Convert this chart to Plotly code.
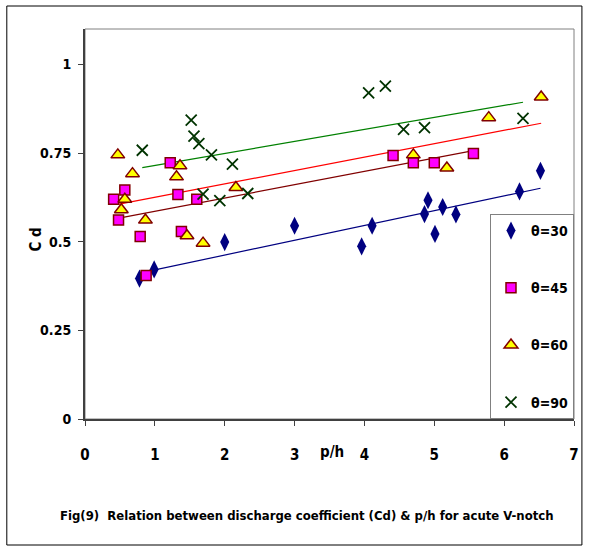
import numpy as np
import plotly.graph_objects as go

# ---- data ----
x30 = [0.78, 0.99, 2.00, 3.00, 3.96, 4.11, 4.86, 4.91, 5.01, 5.12, 5.31, 6.22, 6.52]
y30 = [0.396, 0.422, 0.499, 0.545, 0.487, 0.545, 0.578, 0.617, 0.522, 0.598, 0.577, 0.642, 0.700]

x45 = [0.41, 0.48, 0.57, 0.79, 0.875, 1.22, 1.33, 1.38, 1.60, 4.41, 4.70, 5.00, 5.56]
y45 = [0.620, 0.561, 0.646, 0.515, 0.405, 0.723, 0.633, 0.529, 0.620, 0.743, 0.723, 0.723, 0.749]

x60 = [0.47, 0.52, 0.57, 0.68, 0.865, 1.31, 1.36, 1.46, 1.69, 2.16, 4.70, 5.18, 5.78, 6.53]
y60 = [0.745, 0.590, 0.620, 0.692, 0.561, 0.683, 0.714, 0.517, 0.496, 0.653, 0.745, 0.708, 0.850, 0.908]

x90 = [0.82, 1.52, 1.56, 1.63, 1.69, 1.81, 1.93, 2.11, 2.33, 4.06, 4.30, 4.56, 4.86, 6.27]
y90 = [0.758, 0.843, 0.798, 0.777, 0.634, 0.745, 0.616, 0.719, 0.636, 0.920, 0.939, 0.817, 0.822, 0.848]

names = ["θ=30", "θ=45", "θ=60", "θ=90"]
x_ticks = [0, 1, 2, 3, 4, 5, 6, 7]
y_ticks = [0, 0.25, 0.5, 0.75, 1]
y_tick_text = ["0", "0.25", "0.5", "0.75", "1"]

FONT = "DejaVu Sans Condensed, Liberation Sans Narrow, Arial Narrow, sans-serif"

# plot area geometry (pixels)
W, H = 590, 548
L, R, T, B = 85, 579, 29, 419

fig = go.Figure()

series = [
    (x30, y30, names[0], dict(symbol="diamond-tall", size=13, color="#000080",
                              line=dict(color="#000080", width=0)), "#000080"),
    (x45, y45, names[1], dict(symbol="square", size=10, color="#FF00FF",
                              line=dict(color="#800000", width=1.5)), "#800000"),
    (x60, y60, names[2], dict(symbol="triangle-up", size=12, color="#FFFF00",
                              line=dict(color="#800000", width=1.5)), "#FF0000"),
    (x90, y90, names[3], dict(symbol="x-thin-open", size=11, color="#003300",
                              line=dict(color="#003300", width=1.8)), "#008000"),
]

# linear trendlines (computed from the data, like Excel)
for xs, ys, nm, mk, lc in series:
    xa = np.array(xs)
    ya = np.array(ys)
    m, c = np.polyfit(xa, ya, 1)
    xl = np.array([xa.min(), xa.max()])
    fig.add_trace(go.Scatter(x=xl, y=m * xl + c, mode="lines",
                             line=dict(color=lc, width=1.2),
                             showlegend=False, hoverinfo="skip"))

for i, (xs, ys, nm, mk, lc) in enumerate(series):
    fig.add_trace(go.Scatter(x=xs, y=ys, mode="markers", name=nm, marker=mk,
                             legendgroup=f"g{i}"))

def px_x(p):
    return (p - L) / (R - L)

def px_y(p):
    return (B - p) / (B - T)

fig.update_layout(
    width=W, height=H,
    margin=dict(l=L, r=W - R, t=T, b=H - B),
    paper_bgcolor="white", plot_bgcolor="white",
    font=dict(family=FONT, color="black", size=15),
    showlegend=True,
    legend=dict(x=1, xanchor="right", y=0, yanchor="bottom",
                bordercolor="#808080", borderwidth=1, bgcolor="white",
                font=dict(family=FONT, size=14, weight="bold"),
                tracegroupgap=36, itemwidth=30),
    xaxis=dict(range=[0, 7], tickvals=x_ticks, ticks="outside", ticklen=5,
               tickcolor="#404040", showgrid=False, zeroline=False,
               showline=True, linecolor="#404040", linewidth=2,
               tickfont=dict(family=FONT, size=15, weight="bold"),
               ticklabelstandoff=16),
    yaxis=dict(range=[0, 1.1], tickvals=y_ticks, ticktext=y_tick_text,
               ticks="outside", ticklen=5, tickcolor="#404040",
               showgrid=False, zeroline=False,
               showline=True, linecolor="#404040", linewidth=2,
               tickfont=dict(family=FONT, size=14, weight="bold"),
               ticklabelstandoff=4),
    annotations=[
        dict(text="p/h", xref="paper", yref="paper", x=px_x(335), y=px_y(452),
             showarrow=False, xanchor="center", yanchor="middle",
             font=dict(family=FONT, size=15, weight="bold")),
        dict(text="C d", xref="paper", yref="paper", x=px_x(35), y=px_y(240),
             showarrow=False, xanchor="center", yanchor="middle", textangle=-90,
             font=dict(family=FONT, size=15, weight="bold")),
        dict(text="Fig(9)  Relation between discharge coefficient (Cd) & p/h for acute V-notch",
             xref="paper", yref="paper", x=px_x(309), y=px_y(515),
             showarrow=False, xanchor="center", yanchor="middle",
             font=dict(family=FONT, size=13, weight="bold")),
    ],
    shapes=[
        # plot-area frame (top and right)
        dict(type="rect", xref="paper", yref="paper", x0=0, x1=1, y0=0, y1=1,
             line=dict(color="#808080", width=1), layer="below"),
        # outer chart border
        dict(type="rect", xref="paper", yref="paper",
             x0=px_x(6), x1=px_x(587), y0=px_y(545), y1=px_y(6),
             line=dict(color="black", width=1)),
    ],
)

fig.write_html("out.html")
